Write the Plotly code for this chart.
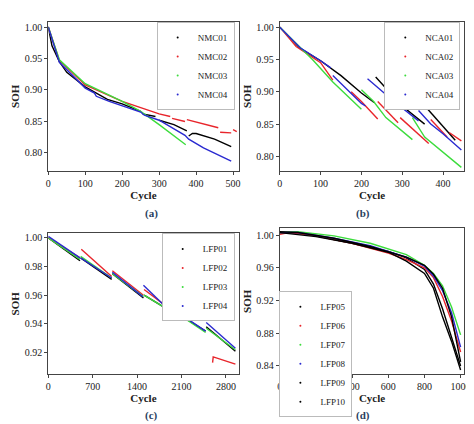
import plotly.graph_objects as go

N = None
# ---- panel (a) NMC ----
nmc_names = ["NMC01", "NMC02", "NMC03", "NMC04"]
nmc_x = [
    [0, 10, 30, 50, 100, 160, 200, 250, N, 255, 290, N, 300, 340, 375, N, 380, 390, 400, 450, 495],
    [0, 30, 100, 200, 250, 300, 330, N, 335, 370, N, 375, 460, N, 465, 495, N, 500, 510],
    [0, 30, 100, 160, 200, 250, 300, 372],
    [0, 30, 100, 125, 130, 165, 250, 260, 300, 370, 380, 420, 495],
]
nmc_y = [
    [1.0, 0.97, 0.945, 0.928, 0.905, 0.885, 0.878, 0.866, N, 0.862, 0.858, N, 0.852, 0.845, 0.835, N, 0.827, 0.831, 0.831, 0.822, 0.810],
    [1.0, 0.947, 0.908, 0.882, 0.872, 0.862, 0.858, N, 0.855, 0.850, N, 0.853, 0.840, N, 0.833, 0.832, N, 0.837, 0.834],
    [1.0, 0.948, 0.910, 0.893, 0.882, 0.866, 0.845, 0.813],
    [1.0, 0.944, 0.903, 0.895, 0.890, 0.882, 0.865, 0.860, 0.852, 0.828, 0.822, 0.808, 0.787],
]
# ---- panel (b) NCA ----
nca_names = ["NCA01", "NCA02", "NCA03", "NCA04"]
nca_x = [
    [0, 50, 100, 150, 200, 232, N, 235, 300, 355, N, 360, 430],
    [0, 40, 100, 130, N, 175, 200, 240, N, 240, 290, N, 295, 330, 365, N, 370, 410, N, 415, 445],
    [0, 50, 80, 130, 200, N, 200, 230, 260, 325, N, 325, 355, 445],
    [0, 50, 100, 125, N, 130, 200, 210, N, 215, 280, 340, N, 340, 370, 400, 445],
]
nca_y = [
    [1.0, 0.967, 0.948, 0.925, 0.898, 0.883, N, 0.923, 0.878, 0.850, N, 0.875, 0.825],
    [1.0, 0.970, 0.945, 0.918, N, 0.900, 0.885, 0.858, N, 0.885, 0.852, N, 0.860, 0.840, 0.820, N, 0.857, 0.830, N, 0.837, 0.824],
    [1.0, 0.968, 0.950, 0.915, 0.873, N, 0.903, 0.885, 0.860, 0.826, N, 0.860, 0.830, 0.783],
    [1.0, 0.968, 0.948, 0.937, N, 0.925, 0.882, 0.878, N, 0.920, 0.885, 0.855, N, 0.871, 0.850, 0.835, 0.810],
]
# ---- panel (c) LFP01-04 ----
lfpc_names = ["LFP01", "LFP02", "LFP03", "LFP04"]
lfpc_x = [
    [0, 500, N, 510, 1000, N, 1010, 1500, N, 1510, 2000, N, 2010, 2480, N, 2490, 2950],
    [0, 500, N, 520, 1000, N, 1010, 1500, N, 1510, 1990, N, 2000, 2300, N, 2590, 2600, 2950],
    [0, 500, N, 510, 1000, N, 1010, 1500, N, 1510, 2000, N, 2010, 2480, N, 2490, 2950],
    [0, 500, N, 510, 1000, N, 1010, 1490, N, 1500, 1800, N, 1810, 2000, N, 2010, 2480, N, 2490, 2950],
]
lfpc_y = [
    [1.0, 0.984, N, 0.986, 0.971, N, 0.975, 0.958, N, 0.960, 0.947, N, 0.948, 0.935, N, 0.938, 0.921],
    [1.0, 0.986, N, 0.992, 0.973, N, 0.977, 0.960, N, 0.964, 0.948, N, 0.955, 0.943, N, 0.913, 0.917, 0.912],
    [1.0, 0.985, N, 0.987, 0.972, N, 0.975, 0.959, N, 0.960, 0.947, N, 0.948, 0.934, N, 0.937, 0.922],
    [1.001, 0.986, N, 0.986, 0.972, N, 0.976, 0.959, N, 0.967, 0.954, N, 0.955, 0.948, N, 0.949, 0.935, N, 0.941, 0.923],
]
# ---- panel (d) LFP05-10 ----
lfpd_names = ["LFP05", "LFP06", "LFP07", "LFP08", "LFP09", "LFP10"]
lfpd_x = [
    [0, 100, 200, 400, 600, 700, 800, 850, 900, 950, 1000],
    [0, 50, 200, 400, 600, 700, 800, 850, 900, 950, 1000],
    [0, 100, 300, 500, 700, 800, 850, 900, 950, 1000],
    [0, 100, 300, 500, 700, 800, 850, 900, 950, 1000],
    [0, 100, 300, 500, 700, 800, 850, 900, 950, 1000],
    [0, 200, 400, 600, 700, 800, 850, 900, 950, 1000],
]
lfpd_y = [
    [1.003, 1.002, 0.999, 0.990, 0.980, 0.972, 0.958, 0.940, 0.910, 0.875, 0.840],
    [1.001, 1.003, 0.999, 0.990, 0.978, 0.970, 0.960, 0.948, 0.925, 0.895, 0.857],
    [1.003, 1.004, 0.999, 0.990, 0.976, 0.963, 0.953, 0.938, 0.912, 0.878],
    [1.003, 1.003, 0.996, 0.987, 0.973, 0.962, 0.950, 0.932, 0.905, 0.863],
    [1.004, 1.003, 0.996, 0.986, 0.973, 0.963, 0.952, 0.935, 0.900, 0.845],
    [1.003, 0.998, 0.990, 0.979, 0.968, 0.953, 0.935, 0.900, 0.870, 0.835],
]
col4 = ["#000000", "#e8252b", "#3ddc3d", "#2a2ad0"]
col6 = ["#000000", "#e8252b", "#3ddc3d", "#2a2ad0", "#000000", "#000000"]

FONT = "Liberation Serif"
fig = go.Figure()

panels = [
    (nmc_names, nmc_x, nmc_y, col4, "x", "y", "legend"),
    (nca_names, nca_x, nca_y, col4, "x2", "y2", "legend2"),
    (lfpc_names, lfpc_x, lfpc_y, col4, "x3", "y3", "legend3"),
    (lfpd_names, lfpd_x, lfpd_y, col6, "x4", "y4", "legend4"),
]
for names, xs, ys, cols, xa, ya, lg in panels:
    for n, x, y, c in zip(names, xs, ys, cols):
        fig.add_trace(go.Scatter(x=x, y=y, mode="lines", line=dict(color=c, width=1.4),
                                 xaxis=xa, yaxis=ya, showlegend=False))
        fig.add_trace(go.Scatter(x=[N], y=[N], mode="markers", name=n, marker=dict(color=c, size=2),
                                 xaxis=xa, yaxis=ya, legend=lg))

W, H = 474, 424
def dx(a, b): return [a / W, b / W]
def dy(top, bot): return [1 - bot / H, 1 - top / H]

ax = dict(showline=True, linecolor="#444", linewidth=1, mirror=True, ticks="outside", ticklen=3,
          showgrid=False, zeroline=False, tickfont=dict(family=FONT, size=10, color="#222"),
          title_font=dict(family=FONT, size=11, color="#222"), title_standoff=2)

leg = dict(bgcolor="white", bordercolor="#bbb", borderwidth=1, font=dict(family=FONT, size=9, color="#222"),
           xanchor="right", yanchor="top", itemwidth=30, tracegroupgap=0)

fig.update_layout(
    width=W, height=H, margin=dict(l=0, r=0, t=0, b=0), plot_bgcolor="white", paper_bgcolor="white",
    xaxis=dict(ax, domain=dx(38, 232), range=[0, 515], tickvals=[0, 100, 200, 300, 400, 500], title_text="<b>Cycle</b>", anchor="y"),
    yaxis=dict(ax, domain=dy(13, 162), range=[0.772, 1.008], tickvals=[0.8, 0.85, 0.9, 0.95, 1.0], tickformat=".2f", title_text="<b>SOH</b>", anchor="x"),
    xaxis2=dict(ax, domain=dx(274, 462), range=[0, 452], tickvals=[0, 100, 200, 300, 400], title_text="<b>Cycle</b>", anchor="y2"),
    yaxis2=dict(ax, domain=dy(13, 162), range=[0.778, 1.008], tickvals=[0.8, 0.85, 0.9, 0.95, 1.0], tickformat=".2f", title_text="<b>SOH</b>", anchor="x2"),
    xaxis3=dict(ax, domain=dx(38, 232), range=[0, 3000], tickvals=[0, 700, 1400, 2100, 2800], title_text="<b>Cycle</b>", anchor="y3"),
    yaxis3=dict(ax, domain=dy(225, 366), range=[0.905, 1.003], tickvals=[0.92, 0.94, 0.96, 0.98, 1.0], tickformat=".2f", title_text="<b>SOH</b>", anchor="x3"),
    xaxis4=dict(ax, domain=dx(274, 462), range=[0, 1020], tickvals=[0, 200, 400, 600, 800, 1000], title_text="<b>Cycle</b>", anchor="y4"),
    yaxis4=dict(ax, domain=dy(220, 366), range=[0.83, 1.008], tickvals=[0.84, 0.88, 0.92, 0.96, 1.0], tickformat=".2f", title_text="<b>SOH</b>", anchor="x4"),
    legend=dict(leg, x=228 / W, y=1 - 13 / H),
    legend2=dict(leg, x=458 / W, y=1 - 13 / H),
    legend3=dict(leg, x=228 / W, y=1 - 225 / H),
    legend4=dict(leg, x=348 / W, y=1 - 283 / H),
    annotations=[
        dict(text="<b>(a)</b>", x=135 / W, y=1 - 205 / H, xref="paper", yref="paper", showarrow=False, font=dict(family=FONT, size=11)),
        dict(text="<b>(b)</b>", x=368 / W, y=1 - 205 / H, xref="paper", yref="paper", showarrow=False, font=dict(family=FONT, size=11)),
        dict(text="<b>(c)</b>", x=135 / W, y=1 - 416 / H, xref="paper", yref="paper", showarrow=False, font=dict(family=FONT, size=11)),
        dict(text="<b>(d)</b>", x=368 / W, y=1 - 416 / H, xref="paper", yref="paper", showarrow=False, font=dict(family=FONT, size=11)),
    ],
)
fig.write_html("out.html")
